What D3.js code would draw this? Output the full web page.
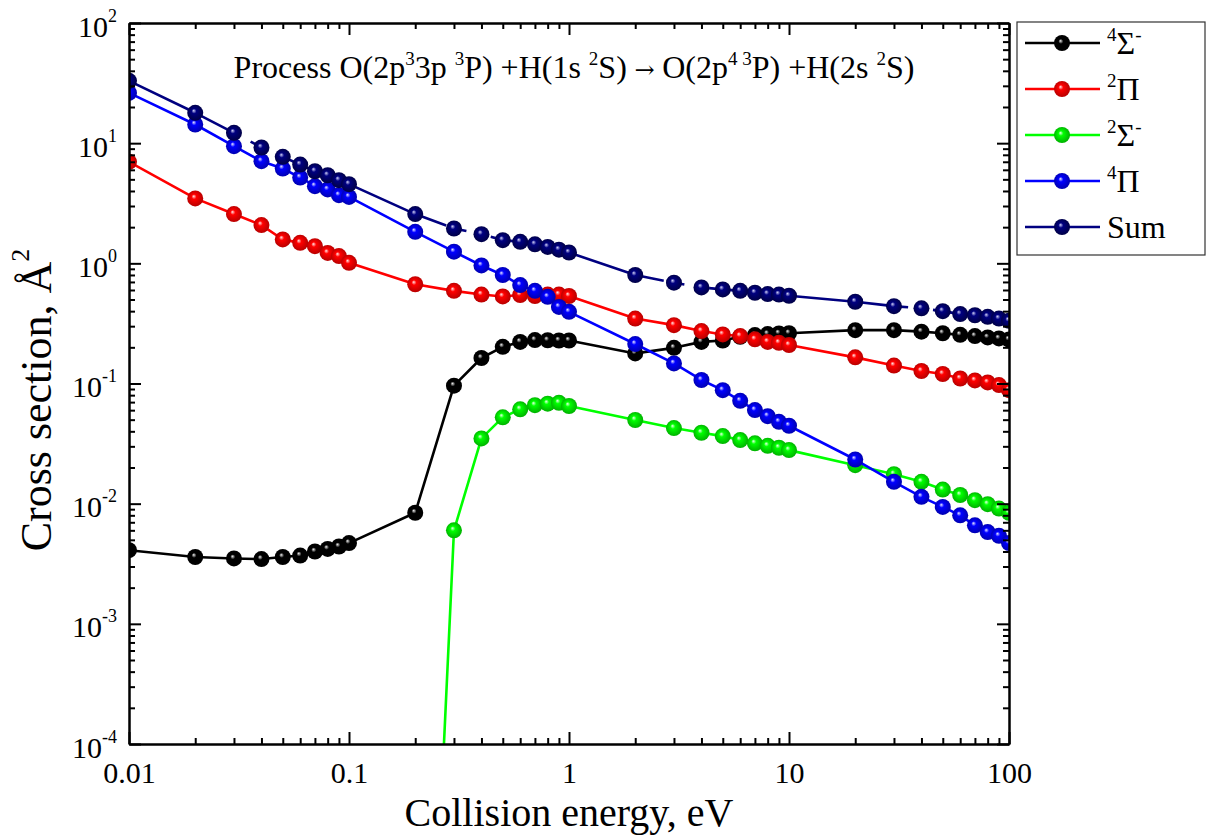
<!DOCTYPE html>
<html><head><meta charset="utf-8">
<script src="https://cdn.jsdelivr.net/npm/d3@7"></script>
<style>
body{margin:0;background:#fff}
svg text{font-family:"Liberation Serif","Times New Roman",serif;fill:#000}
</style>
</head><body>
<svg id="c" width="1210" height="836"></svg>
<script>
// ---------------- data ----------------
const energies=[0.01,0.02,0.03,0.04,0.05,0.06,0.07,0.08,0.09,0.1,0.2,0.3,0.4,0.5,0.6,0.7,0.8,0.9,1,2,3,4,5,6,7,8,9,10,20,30,40,50,60,70,80,90,100];
const sigma4Minus=[0.0041,0.0036,0.0035,0.00346,0.0036,0.0037,0.0040,0.0042,0.0044,0.0047,0.0084,0.096,0.163,0.202,0.222,0.23,0.229,0.228,0.228,0.178,0.198,0.222,0.228,0.245,0.253,0.258,0.261,0.262,0.278,0.278,0.270,0.262,0.254,0.248,0.242,0.237,0.232];
const pi2=[6.99,3.47,2.57,2.08,1.58,1.48,1.39,1.22,1.15,1.01,0.67,0.59,0.55,0.53,0.545,0.535,0.55,0.55,0.535,0.347,0.306,0.273,0.256,0.248,0.233,0.222,0.218,0.209,0.165,0.141,0.127,0.120,0.110,0.106,0.102,0.097,0.088];
const sigma2Minus=[null,null,null,null,null,null,null,null,null,null,8e-10,0.0060,0.0349,0.0523,0.061,0.066,0.068,0.069,0.065,0.0497,0.0426,0.0389,0.0365,0.0338,0.0318,0.0303,0.0292,0.0279,0.0209,0.0176,0.0152,0.0131,0.0118,0.0107,0.0099,0.0091,0.0084];
const pi4=[26.2,14.3,9.44,7.08,6.15,5.18,4.39,4.12,3.69,3.57,1.83,1.25,0.96,0.80,0.659,0.59,0.526,0.434,0.395,0.213,0.147,0.107,0.088,0.0718,0.0601,0.0535,0.048,0.0445,0.0233,0.0152,0.0114,0.0094,0.0080,0.0066,0.0058,0.0054,0.0047];
const sumTotal=[33.0,17.9,12.2,9.2,7.69,6.64,5.84,5.41,4.92,4.56,2.57,1.95,1.75,1.56,1.51,1.44,1.37,1.30,1.23,0.80,0.69,0.63,0.607,0.59,0.569,0.555,0.55,0.537,0.479,0.44,0.422,0.40,0.378,0.370,0.359,0.347,0.333];

const xTickValues=[0.01,0.1,1,10,100];
const xTickLabels=["0.01","0.1","1","10","100"];
const yTickExponents=[-4,-3,-2,-1,0,1,2];

const seriesValues=[sigma4Minus,pi2,sigma2Minus,pi4,sumTotal];
const seriesColors=["#000000","#ff0000","#00ff00","#0000ff","#000080"];
const seriesHighlights=["#f0f0f0","#ffe8e8","#e8ffe8","#e8e8ff","#d0d0f8"];
const seriesDark=["#000000","#b00000","#00a800","#0000a8","#000040"];
const seriesDash=[null,null,null,null,"179,12,9,25"];
// legend label parts: [superscript before, main glyph, superscript after]
const legendLabels=[["4","Σ","-"],["2","Π",""],["2","Σ","-"],["4","Π",""],["","Sum",""]];

// ---------------- layout ----------------
const plot={l:129,r:1009,t:23,b:744};
const svg=d3.select("#c");
const x=d3.scaleLog().domain([0.01,100]).range([plot.l,plot.r]);
const y=d3.scaleLog().domain([1e-4,1e2]).range([plot.b,plot.t]);

const defs=svg.append("defs");
defs.append("clipPath").attr("id","clip").append("rect")
  .attr("x",plot.l).attr("y",plot.t).attr("width",plot.r-plot.l).attr("height",plot.b-plot.t);
seriesColors.forEach((c,i)=>{
  const g=defs.append("radialGradient").attr("id","g"+i)
    .attr("cx","50%").attr("cy","50%").attr("r","55%").attr("fx","40%").attr("fy","36%");
  g.append("stop").attr("offset","0%").attr("stop-color",seriesHighlights[i]);
  g.append("stop").attr("offset","28%").attr("stop-color",c);
  g.append("stop").attr("offset","100%").attr("stop-color",seriesDark[i]);
});

// ---------------- series ----------------
const gData=svg.append("g").attr("clip-path","url(#clip)");
const line=d3.line().defined(d=>d.v!=null).x(d=>x(d.e)).y(d=>y(d.v));
seriesValues.forEach((vals,i)=>{
  const pts=energies.map((e,k)=>({e:e,v:vals[k]}));
  const p=gData.append("path").datum(pts).attr("d",line)
    .attr("fill","none").attr("stroke",seriesColors[i]).attr("stroke-width",2.6)
    .attr("stroke-linejoin","round");
  if(seriesDash[i]) p.attr("stroke-dasharray",seriesDash[i]).attr("stroke-dashoffset",55);
  gData.append("g").selectAll("circle").data(pts.filter(d=>d.v!=null)).join("circle")
    .attr("cx",d=>x(d.e)).attr("cy",d=>y(d.v)).attr("r",8)
    .attr("fill","url(#g"+i+")");
});

// ---------------- axes ----------------
function minors(lo,hi){const a=[];for(let e=lo;e<hi;e++)for(let k=2;k<=9;k++)a.push(k*Math.pow(10,e));return a;}
const xMinor=minors(-2,2), yMinor=minors(-4,2);
const yMajor=yTickExponents.map(p=>Math.pow(10,p));

function styleAxis(g){
  g.selectAll("path.domain").attr("stroke","#000").attr("stroke-width",2);
  g.selectAll(".tick line").attr("stroke","#000").attr("stroke-width",2);
}
const MAJ=12, MIN=6;
// bottom
const gb=svg.append("g").attr("transform",`translate(0,${plot.b})`);
gb.append("g").call(d3.axisBottom(x).tickValues(xMinor).tickSizeInner(-MIN).tickSizeOuter(0).tickFormat("")).call(styleAxis);
const gbm=gb.append("g").call(d3.axisBottom(x).tickValues(xTickValues).tickSizeInner(-MAJ).tickSizeOuter(0)
  .tickFormat((d,i)=>xTickLabels[i])).call(styleAxis);
gbm.selectAll("text").attr("font-size",30).attr("y",39).attr("dy",0).attr("font-family","Liberation Serif");
// top
const gt=svg.append("g").attr("transform",`translate(0,${plot.t})`);
gt.append("g").call(d3.axisTop(x).tickValues(xMinor).tickSizeInner(-MIN).tickSizeOuter(0).tickFormat("")).call(styleAxis);
gt.append("g").call(d3.axisTop(x).tickValues(xTickValues).tickSizeInner(-MAJ).tickSizeOuter(0).tickFormat("")).call(styleAxis);
// left
const gl=svg.append("g").attr("transform",`translate(${plot.l},0)`);
gl.append("g").call(d3.axisLeft(y).tickValues(yMinor).tickSizeInner(-MIN).tickSizeOuter(0).tickFormat("")).call(styleAxis);
const glm=gl.append("g").call(d3.axisLeft(y).tickValues(yMajor).tickSizeInner(-MAJ).tickSizeOuter(0).tickFormat("")).call(styleAxis);
glm.selectAll(".tick").each(function(d,i){
  const t=d3.select(this).select("text").attr("x",-12).attr("dy",0).attr("y",13)
    .attr("font-size",30).attr("font-family","Liberation Serif").attr("text-anchor","end");
  t.text(null);
  t.append("tspan").text("10");
  t.append("tspan").attr("font-size",18).attr("dy",-15).text(String(yTickExponents[i]));
});
// right
const gr=svg.append("g").attr("transform",`translate(${plot.r},0)`);
gr.append("g").call(d3.axisRight(y).tickValues(yMinor).tickSizeInner(-MIN).tickSizeOuter(0).tickFormat("")).call(styleAxis);
gr.append("g").call(d3.axisRight(y).tickValues(yMajor).tickSizeInner(-MAJ).tickSizeOuter(0).tickFormat("")).call(styleAxis);

// ---------------- titles ----------------
const xc=(plot.l+plot.r)/2, yc=(plot.t+plot.b)/2;
svg.append("text").attr("x",xc).attr("y",826).attr("text-anchor","middle").attr("font-size",40)
  .text("Collision energy, eV");
const yt=svg.append("text").attr("transform",`translate(51,400) rotate(-90)`).attr("text-anchor","middle").attr("font-size",44);
yt.append("tspan").text("Cross section, Å");
yt.append("tspan").attr("font-size",26).attr("dy",-22).text("2");

// process title with superscripts
const titleParts=[["Process O(2p",0],["3",1],["3p ",0],["3",1],["P) +H(1s ",0],["2",1],["S)",0],[" → ",2],["O(2p",0],["4 3",1],["P) +H(2s ",0],["2",1],["S)",0]];
const tt=svg.append("text").attr("x",xc+5).attr("y",78).attr("text-anchor","middle").attr("font-size",32);
let raised=false;
titleParts.forEach(([s,sup])=>{
  const sp=tt.append("tspan").text(s);
  if(sup===1){sp.attr("font-size",19).attr("dy",raised?0:-13);raised=true;}
  else{ if(raised){sp.attr("dy",13);} raised=false; if(sup===2) sp.attr("font-family","DejaVu Serif").attr("font-size",24); }
});

// ---------------- legend ----------------
const lg=svg.append("g");
lg.append("rect").attr("x",1017).attr("y",22).attr("width",188).attr("height",233)
  .attr("fill","#fff").attr("stroke","#333").attr("stroke-width",1.2);
legendLabels.forEach((lab,i)=>{
  const cy=43+i*46;
  lg.append("line").attr("x1",1025).attr("x2",1100).attr("y1",cy).attr("y2",cy)
    .attr("stroke",seriesColors[i]).attr("stroke-width",2.6);
  lg.append("circle").attr("cx",1062).attr("cy",cy).attr("r",8).attr("fill","url(#g"+i+")");
  const t=lg.append("text").attr("x",1107).attr("y",cy+11).attr("font-size",32);
  if(lab[0]) t.append("tspan").attr("font-size",19).attr("dy",-13).text(lab[0]);
  t.append("tspan").attr("dy",lab[0]?13:0).text(lab[1]);
  if(lab[2]) t.append("tspan").attr("font-size",19).attr("dy",-13).text(lab[2]);
});
</script>
</body></html>
